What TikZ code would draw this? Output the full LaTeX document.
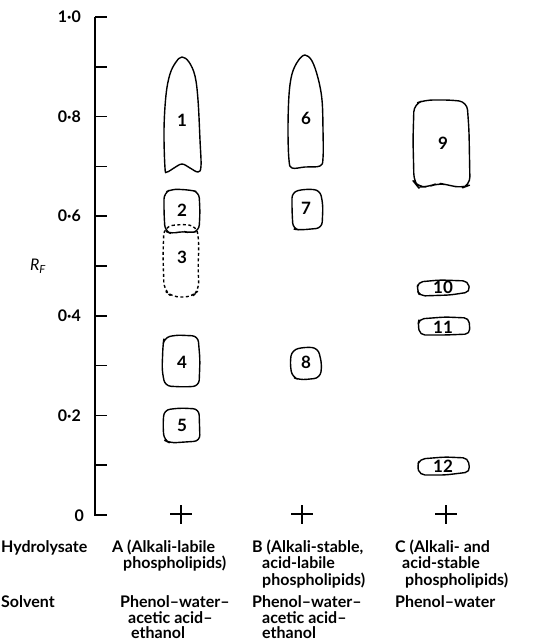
\documentclass[tikz,border=0pt]{standalone}
\usepackage{fontspec}
\setmainfont{Lato}
\tikzset{
  spot/.style={draw, line width=1.4pt, line join=round},
  box/.style={spot, rounded corners=6pt},
  faint/.style={box, dash pattern=on 3pt off 2.5pt},
  num/.style={font=\fontsize{17}{19}\selectfont\bfseries},
  lbl/.style={anchor=base west, inner sep=0pt, font=\fontsize{16}{18}\selectfont\bfseries},
  axlbl/.style={anchor=east, inner sep=0pt, font=\fontsize{16}{18}\selectfont\bfseries}
}
\begin{document}
\begin{tikzpicture}[x=1pt, y=-1pt]
    \useasboundingbox (0,0) rectangle (534,640);
    \draw[line width=2pt] (95,17) -- (95,515) -- (107,515);
    \foreach \k in {1,...,10}
        \draw[line width=1.7pt] (95,{515-49.8*\k}) -- ++(12,0);
    \foreach \v/\t in {2/0·2, 4/0·4, 6/0·6, 8/0·8, 10/1·0}
        \node[axlbl] at (81,{515-49.8*\v}) {\t};
    \node[axlbl] (zero) at (84,516) {0};
    \node[inner sep=0pt] (rf) at (38,266) {\fontsize{16}{18}\selectfont\textit{R}\textsubscript{\textit{F}}};

    \draw[spot] plot[smooth cycle, tension=0.6] coordinates {(165,168) (164,130) (166,95) (170,74) (176,62) (182,57) (189,62) (195,76) (198,100) (200,140) (201,166) (198,172) (190,168) (182,164) (174,168) (167,172)};
    \draw[box] (164,193) -- (172,189) -- (190,190) -- (199,192) -- (200,212) -- (199,231) -- (190,233) -- (182,231) -- (172,234) -- (165,231) -- (164,212) -- cycle;
    \draw[faint, rounded corners=8pt] (164,227) -- (180,224) -- (197,226) -- (199,245) -- (198,265) -- (199,290) -- (192,297) -- (172,297) -- (164,290) -- (163,255) -- cycle;
    \draw[box] (164,338) -- (175,335) -- (198,336) -- (200,360) -- (199,386) -- (185,387) -- (165,386) -- (162,370) -- (163,345) -- cycle;
    \draw[box] (164,410) -- (180,408) -- (199,409) -- (200,441) -- (185,442) -- (170,443) -- (164,440) -- (163,425) -- cycle;
    \draw[spot] plot[smooth cycle, tension=0.6] coordinates {(289,160) (288,130) (289,95) (292,74) (298,61) (305,55) (312,61) (318,78) (322,100) (323,130) (323,158) (320,166) (305,167) (292,168)};
    \draw[box] (292,192) -- (305,189) -- (320,190) -- (323,205) -- (322,228) -- (300,230) -- (293,229) -- (292,210) -- cycle;
    \draw[box] (292,350) -- (305,347) -- (318,348) -- (322,365) -- (320,378) -- (300,380) -- (292,377) -- (290,362) -- cycle;
    \draw[box, rounded corners=8pt] (414,104) -- (425,100) -- (452,100) -- (467,102) -- (469,130) -- (470,185) -- (462,188) -- (448,185) -- (438,183) -- (428,187) -- (418,187) -- (414,182) -- (413,140) -- cycle;
    \draw[box, rounded corners=5pt] (418,282) -- (440,280) -- (468,281) -- (470,292) -- (450,295) -- (420,296) -- (417,290) -- cycle;
    \draw[box, rounded corners=5pt] (419,319) -- (445,317) -- (469,318) -- (470,334) -- (445,335) -- (420,335) -- (418,325) -- cycle;
    \draw[box, rounded corners=5pt] (420,459) -- (445,457) -- (468,458) -- (470,472) -- (445,475) -- (420,475) -- (417,466) -- cycle;

    \node[num] (n1) at (182,120) {1};
    \node[num] (n2) at (182,210) {2};
    \node[num] (n3) at (182,257) {3};
    \node[num] (n4) at (182,362) {4};
    \node[num] (n5) at (182,425) {5};
    \node[num] (n6) at (306,118) {6};
    \node[num] (n7) at (306,208) {7};
    \node[num] (n8) at (306,362) {8};
    \node[num] (n9) at (443,143) {9};
    \node[num] (n10) at (443,287) {10};
    \node[num] (n11) at (443,327) {11};
    \node[num] (n12) at (443,466) {12};

    \foreach \c in {181,302,446}
        \draw[line width=1.6pt] (\c-11,514) -- (\c+11,514) (\c,505) -- (\c,524);

    \node[lbl] (hyd) at (1,552) {Hydrolysate};
    \node[lbl] (hA1) at (112,552) {A (Alkali-labile};
    \node[lbl] (hA2) at (123,568) {phospholipids)};
    \node[lbl] (hB1) at (252,552) {B (Alkali-stable,};
    \node[lbl] (hB2) at (262,568) {acid-labile};
    \node[lbl] (hB3) at (262,585) {phospholipids)};
    \node[lbl] (hC1) at (395,552) {C (Alkali- and};
    \node[lbl] (hC2) at (402,568) {acid-stable};
    \node[lbl] (hC3) at (405,585) {phospholipids)};
    \node[lbl] (sol) at (1,607) {Solvent};
    \node[lbl] (sA1) at (120,607) {Phenol–water–};
    \node[lbl] (sA2) at (128,623) {acetic acid–};
    \node[lbl] (sA3) at (131,638) {ethanol};
    \node[lbl] (sB1) at (252,607) {Phenol–water–};
    \node[lbl] (sB2) at (262,623) {acetic acid–};
    \node[lbl] (sB3) at (262,638) {ethanol};
    \node[lbl] (sC1) at (395,607) {Phenol–water};
\end{tikzpicture}
\end{document}
